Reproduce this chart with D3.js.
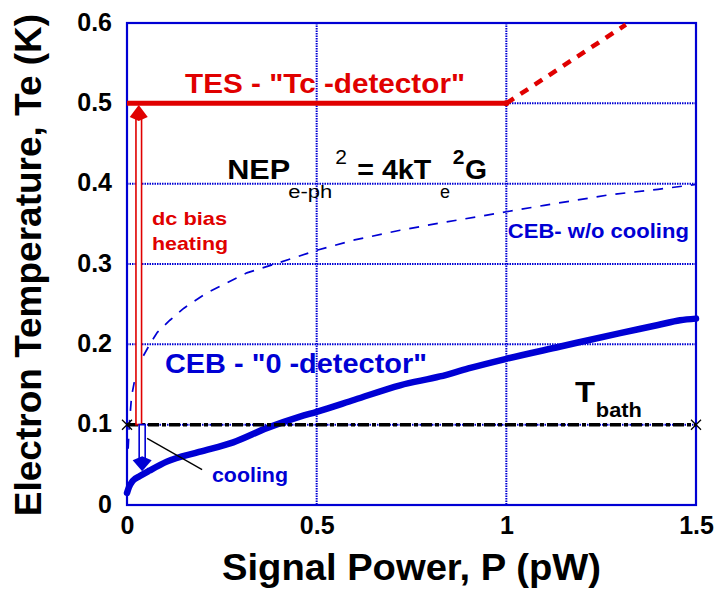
<!DOCTYPE html>
<html>
<head>
<meta charset="utf-8">
<script src="https://cdn.jsdelivr.net/npm/d3@7.9.0/dist/d3.min.js"></script>
<style>
  body { margin: 0; background: #fff; }
  text { font-family: Arial, "Liberation Sans", sans-serif; }
</style>
</head>
<body>
<svg id="chart" width="716" height="593"></svg>
<script>
// axis ticks
const xTicks = [0, 0.5, 1, 1.5];
const yTicks = [0, 0.1, 0.2, 0.3, 0.4, 0.5, 0.6];
const xTickLabels = ['0', '0.5', '1', '1.5'];
const yTickLabels = ['0', '0.1', '0.2', '0.3', '0.4', '0.5', '0.6'];

// TES - transition edge, flat at Tc then overheated
const tesP = [0, 1.0];
const tesT = [0.5, 0.5];
const tesOverP = [1.0, 1.315];
const tesOverT = [0.5, 0.598];

// CEB with electron cooling
const cebP = [0, 0.005, 0.015, 0.034, 0.06, 0.105, 0.19, 0.28, 0.37, 0.456, 0.5, 0.6, 0.72, 0.825, 0.9, 1.0, 1.14, 1.3, 1.4, 1.458, 1.5];
const cebT = [0.015, 0.022, 0.03, 0.036, 0.043, 0.054, 0.066, 0.078, 0.096, 0.11, 0.116, 0.131, 0.149, 0.16, 0.17, 0.182, 0.197, 0.214, 0.224, 0.23, 0.232];

// CEB without cooling
const noCoolP = [0.003, 0.006, 0.012, 0.02, 0.04, 0.06, 0.08, 0.113, 0.15, 0.21, 0.316, 0.403, 0.5, 0.6, 0.72, 0.825, 1.0, 1.1, 1.27, 1.4, 1.5];
const noCoolT = [0.07, 0.1, 0.135, 0.155, 0.183, 0.2, 0.215, 0.23, 0.245, 0.264, 0.289, 0.302, 0.317, 0.33, 0.342, 0.351, 0.365, 0.373, 0.386, 0.393, 0.399];

// bath temperature
const bathP = [0, 1.5];
const bathT = [0.1, 0.1];

const svg = d3.select('#chart');
const margin = { top: 23, right: 20, bottom: 88, left: 127 };
const width = 716 - margin.left - margin.right;
const height = 593 - margin.top - margin.bottom;

const x = d3.scaleLinear().domain([0, 1.5]).range([0, width]);
const y = d3.scaleLinear().domain([0, 0.6]).range([height, 0]);

const blue = '#0000d4';
const red = '#e00000';

const g = svg.append('g').attr('transform', `translate(${margin.left},${margin.top})`);

// grid lines (dotted blue)
g.append('g').selectAll('line').data(yTicks.slice(1, -1)).join('line')
    .attr('x1', 0).attr('x2', width)
    .attr('y1', d => y(d)).attr('y2', d => y(d))
    .attr('stroke', blue).attr('stroke-width', 2).attr('stroke-dasharray', '1.5,1');
g.append('g').selectAll('line').data(xTicks.slice(1, -1)).join('line')
    .attr('y1', 0).attr('y2', height)
    .attr('x1', d => x(d)).attr('x2', d => x(d))
    .attr('stroke', blue).attr('stroke-width', 2).attr('stroke-dasharray', '1.5,1');

// frame
g.append('rect').attr('width', width).attr('height', height)
    .attr('fill', 'none').attr('stroke', blue).attr('stroke-width', 2.2);

// tick labels
const yAxis = d3.axisLeft(y).tickValues(yTicks).tickFormat((d, i) => yTickLabels[i]).tickSize(0).tickPadding(15);
const yg = g.append('g').call(yAxis);
yg.select('.domain').remove();
yg.selectAll('text').attr('font-size', 25).attr('font-weight', 'bold').attr('fill', '#000')
    .attr('font-family', 'Arial, "Liberation Sans", sans-serif').attr('dy', '0.28em');

const xAxis = d3.axisBottom(x).tickValues(xTicks).tickFormat((d, i) => xTickLabels[i]).tickSize(0).tickPadding(11);
const xg = g.append('g').attr('transform', `translate(0,${height})`).call(xAxis);
xg.select('.domain').remove();
xg.selectAll('text').attr('font-size', 25).attr('font-weight', 'bold').attr('fill', '#000')
    .attr('font-family', 'Arial, "Liberation Sans", sans-serif');

const line = d3.line().x(d => x(d[0])).y(d => y(d[1]));
const zip = (a, b) => a.map((v, i) => [v, b[i]]);

// CEB w/o cooling (thin dashed)
g.append('path').datum(zip(noCoolP, noCoolT)).attr('d', line)
    .attr('fill', 'none').attr('stroke', blue).attr('stroke-width', 1.7).attr('stroke-dasharray', '10,9');

// CEB with cooling (thick)
g.append('path').datum(zip(cebP, cebT)).attr('d', line.curve(d3.curveMonotoneX))
    .attr('fill', 'none').attr('stroke', blue).attr('stroke-width', 6.5).attr('stroke-linecap', 'round');
line.curve(d3.curveLinear);

// TES
g.append('path').datum(zip(tesP, tesT)).attr('d', line)
    .attr('fill', 'none').attr('stroke', red).attr('stroke-width', 5);
g.append('path').datum(zip(tesOverP, tesOverT)).attr('d', line)
    .attr('fill', 'none').attr('stroke', red).attr('stroke-width', 4.5).attr('stroke-dasharray', '9,8');
g.append('circle').attr('cx', x(1)).attr('cy', y(0.5)).attr('r', 3).attr('fill', red);

// T bath (dash-dot)
g.append('path').datum(zip(bathP, bathT)).attr('d', line)
    .attr('fill', 'none').attr('stroke', '#000').attr('stroke-width', 3.5).attr('stroke-dasharray', '11,3,4,3');
bathP.forEach((p, i) => {
    const cx = x(p), cy = y(bathT[i]);
    g.append('path').attr('d', `M${cx - 5},${cy - 5}L${cx + 5},${cy + 5}M${cx - 5},${cy + 5}L${cx + 5},${cy - 5}`)
        .attr('stroke', '#000').attr('stroke-width', 1.3);
});

// hollow arrow helper: two rails (white inside) and a notched head
function hollowArrow(cx, yFrom, yTip, color, gap, headW, headH) {
    const dir = yTip < yFrom ? -1 : 1;
    const base = yTip - dir * headH;
    g.append('path')
        .attr('d', `M${cx - gap},${base}L${cx - gap},${yFrom}L${cx + gap},${yFrom}L${cx + gap},${base}Z`)
        .attr('fill', '#fff').attr('stroke', 'none');
    g.append('path')
        .attr('d', `M${cx - gap},${base}L${cx - gap},${yFrom}L${cx + gap},${yFrom}L${cx + gap},${base}`)
        .attr('fill', 'none').attr('stroke', color).attr('stroke-width', 1.6);
    g.append('path')
        .attr('d', `M${cx},${yTip}L${cx - headW / 2},${base + dir * 2}L${cx},${base - dir * 2}L${cx + headW / 2},${base + dir * 2}Z`)
        .attr('fill', color);
}
// dc bias heating arrow (up to Tc)
hollowArrow(x(0.031), y(0.1), y(0.498), red, 2.8, 18, 14);
// cooling arrow (down from T bath)
hollowArrow(x(0.04), y(0.1), y(0.042), blue, 3, 19, 13);

// pointer to "cooling"
g.append('line')
    .attr('x1', x(0.053)).attr('y1', y(0.083)).attr('x2', x(0.198)).attr('y2', y(0.044))
    .attr('stroke', '#000').attr('stroke-width', 1.3);

// annotations
function label(px, py, str, size, color, len, weight = 'bold') {
    const t = g.append('text').attr('x', x(px)).attr('y', y(py)).text(str)
        .attr('font-size', size).attr('font-weight', weight).attr('fill', color);
    if (len) t.attr('textLength', len).attr('lengthAdjust', 'spacingAndGlyphs');
    return t;
}
label(0.153, 0.513, 'TES - "Tc -detector"', 28, red, 280);
label(0.1, 0.164, 'CEB - "0 -detector"', 28, blue, 262);
label(0.066, 0.349, 'dc bias', 19, red, 75);
label(0.066, 0.317, 'heating', 19, red, 76);
label(1.004, 0.332, 'CEB- w/o cooling', 20, blue, 181);
label(0.224, 0.029, 'cooling', 20, blue, 76);
label(1.181, 0.128, 'T', 29, '#000', 20);
label(1.236, 0.110, 'bath', 21, '#000', 46);

// NEP formula
label(0.264, 0.406, 'NEP', 28, '#000', 63);
label(0.425, 0.382, 'e-ph', 18, '#000', 44, 'normal');
label(0.549, 0.425, '2', 21, '#000', null, 'normal');
label(0.607, 0.406, '= 4kT', 28, '#000', 74);
label(0.825, 0.382, 'e', 18, '#000', null, 'normal');
label(0.859, 0.425, '2', 21, '#000');
label(0.891, 0.406, 'G', 28, '#000', 22);

// axis titles
svg.append('text').attr('x', 222).attr('y', 580)
    .attr('font-size', 36).attr('font-weight', 'bold')
    .attr('textLength', 379).attr('lengthAdjust', 'spacingAndGlyphs')
    .text('Signal Power, P (pW)');
svg.append('text').attr('transform', 'translate(41,265) rotate(-90)')
    .attr('text-anchor', 'middle').attr('font-size', 37).attr('font-weight', 'bold')
    .text('Electron Temperature, Te (K)');
</script>
</body>
</html>
